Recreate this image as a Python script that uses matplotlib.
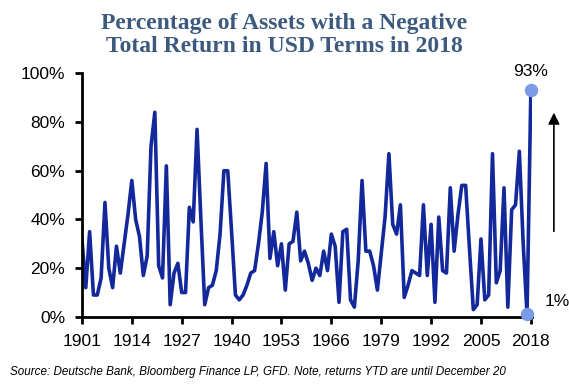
import numpy as np
import matplotlib.pyplot as plt

# share of assets with a negative total return (USD), 1901-2018
years = np.arange(1901, 2019)
pct = [
    32, 12, 35, 9, 9, 16, 47, 20, 12, 29,      # 1901-1910
    18, 30, 42, 56, 40, 33, 17, 25, 70, 84,    # 1911-1920
    21, 16, 62, 5, 18, 22, 10, 10, 45, 39,     # 1921-1930
    77, 40, 5, 12, 13, 19, 34, 60, 60, 35,     # 1931-1940
    9, 7, 9, 13, 18, 19, 30, 43, 63, 24,       # 1941-1950
    35, 21, 30, 11, 30, 31, 43, 23, 27, 22,    # 1951-1960
    15, 20, 17, 27, 19, 34, 29, 6, 35, 36,     # 1961-1970
    7, 4, 23, 56, 27, 27, 21, 11, 26, 41,      # 1971-1980
    67, 38, 34, 46, 8, 13, 19, 18, 17, 46,     # 1981-1990
    17, 38, 6, 41, 19, 18, 53, 27, 42, 54,     # 1991-2000
    54, 28, 3, 5, 32, 7, 9, 67, 14, 19,        # 2001-2010
    53, 4, 44, 46, 68, 30, 1, 93,              # 2011-2018
]
xtick_years = [1901, 1914, 1927, 1940, 1953, 1966, 1979, 1992, 2005, 2018]
yticks = [0, 20, 40, 60, 80, 100]

fig = plt.figure(figsize=(5.69, 3.86), dpi=100)
ax = fig.add_axes([0.144, 0.179, 0.791, 0.631])

ax.plot(years, pct, color='#13289a', lw=2.6, solid_joinstyle='round', zorder=2)
# highlight the last two years
ax.scatter(years[-2:], pct[-2:], s=75, color='#7a9be6', zorder=3, clip_on=False)

ax.set_xlim(1901, 2018.3)
ax.set_ylim(0, 100)
ax.set_xticks(xtick_years)
ax.set_yticks(yticks)
ax.set_yticklabels([f'{v}%' for v in yticks])

for s in ['top', 'right']:
    ax.spines[s].set_visible(False)
for s in ['left', 'bottom']:
    ax.spines[s].set_linewidth(2)
ax.tick_params(direction='out', length=5, width=2, labelsize=12.5, pad=7)
for lab in ax.get_xticklabels() + ax.get_yticklabels():
    lab.set_fontfamily('Liberation Sans')

ax.annotate(f'{pct[-1]}%', (years[-1], pct[-1]), xytext=(0, 8), textcoords='offset points',
            ha='center', va='bottom', fontsize=12.5, family='Liberation Sans')
ax.annotate(f'{pct[-2]}%', (years[-1], pct[-2]), xytext=(10, 4), textcoords='offset points',
            ha='left', va='bottom', fontsize=12.5, family='Liberation Sans')
ax.annotate('', xy=(2024, 85), xytext=(2024, 34), annotation_clip=False,
            arrowprops=dict(arrowstyle='-|>', color='black', lw=1.2, mutation_scale=17))

fig.text(0.50, 0.966, 'Percentage of Assets with a Negative\nTotal Return in USD Terms in 2018',
         ha='center', va='top', fontsize=17, fontweight='bold', color='#3b5a7e',
         family='Liberation Serif', linespacing=1.12)
fig.text(0.018, 0.028, 'Source: Deutsche Bank, Bloomberg Finance LP, GFD. Note, returns YTD are until December 20',
         fontsize=8.4, style='italic', family='Liberation Sans')

fig.savefig('out.png', dpi=100)
